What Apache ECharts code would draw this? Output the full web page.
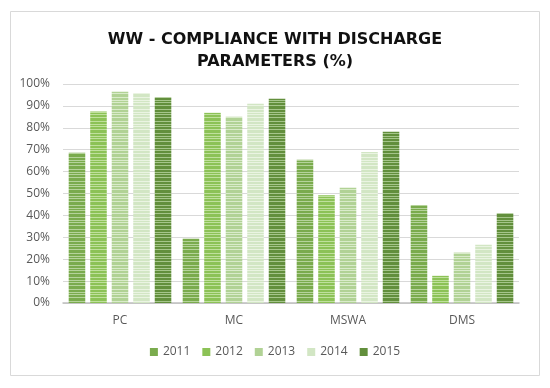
<!DOCTYPE html>
<html><head><meta charset="utf-8">
<script src="https://cdn.jsdelivr.net/npm/echarts@6/dist/echarts.min.js"></script>
<style>html,body{margin:0;padding:0;background:#fff}#c{width:550px;height:388px}</style>
</head><body><div id="c"></div>
<script>
const categories = ['PC', 'MC', 'MSWA', 'DMS'];
const years = ['2011', '2012', '2013', '2014', '2015'];
const v2011 = [68.6, 29.3, 65.4, 44.7];
const v2012 = [87.5, 86.9, 49.2, 12.4];
const v2013 = [96.5, 85.1, 52.6, 23.0];
const v2014 = [95.9, 91.0, 68.9, 26.7];
const v2015 = [93.9, 93.3, 78.2, 41.0];
const yTicks = [0, 10, 20, 30, 40, 50, 60, 70, 80, 90, 100];

const seriesValues = [v2011, v2012, v2013, v2014, v2015];
const baseColors = ['#7aab4d', '#8cc256', '#b1d295', '#d2e6c4', '#628f3c'];
const lightColors = ['#b5d39a', '#bfe09c', '#d9ebca', '#eaf4e2', '#a5c58a'];

function stripe(dark, light) {
  const c = document.createElement('canvas');
  c.width = 4; c.height = 12;
  const g = c.getContext('2d');
  g.fillStyle = dark; g.fillRect(0, 0, 4, 12);
  g.fillStyle = light;
  [1, 4, 6, 9].forEach(y => g.fillRect(0, y, 4, 1));
  return c;
}

const chart = echarts.init(document.getElementById('c'), null, {renderer: 'canvas'});
chart.setOption({
  animation: false,
  backgroundColor: '#fff',
  graphic: [{
    type: 'rect', left: 8, top: 9, shape: {width: 529, height: 364},
    style: {fill: 'none', stroke: '#d9d9d9', lineWidth: 1}, silent: true
  }],
  title: {
    text: 'WW - COMPLIANCE WITH DISCHARGE\nPARAMETERS (%)',
    left: 'center', top: 24,
    textStyle: {fontFamily: 'DejaVu Sans', fontWeight: 'bold', fontSize: 16, color: '#111', lineHeight: 22}
  },
  grid: {left: 63, right: 31, top: 84, bottom: 85},
  legend: {
    bottom: 25, left: 'center', itemWidth: 8, itemHeight: 8, itemGap: 12,
    icon: 'rect',
    textStyle: {fontFamily: 'Open Sans', fontSize: 12, color: '#595959'},
    data: years.map((y, i) => ({name: y, itemStyle: {color: baseColors[i]}}))
  },
  xAxis: {
    type: 'category', data: categories,
    axisLine: {lineStyle: {color: '#bfbfbf', width: 1.5}},
    axisTick: {show: false},
    axisLabel: {fontFamily: 'Open Sans', fontSize: 12, color: '#595959', margin: 12}
  },
  yAxis: {
    type: 'value', min: 0, max: 100, interval: 10,
    axisLabel: {formatter: v => yTicks.includes(v) ? v + '%' : '', fontFamily: 'Open Sans', fontSize: 12, color: '#595959', margin: 13},
    axisLine: {show: false}, axisTick: {show: false},
    splitLine: {lineStyle: {color: '#d9d9d9', width: 1}}
  },
  series: years.map((y, i) => ({
    name: y, type: 'bar', data: seriesValues[i],
    barGap: '30%', barCategoryGap: '10%',
    itemStyle: {color: {image: stripe(baseColors[i], lightColors[i]), repeat: 'repeat'}}
  }))
});
</script></body></html>
